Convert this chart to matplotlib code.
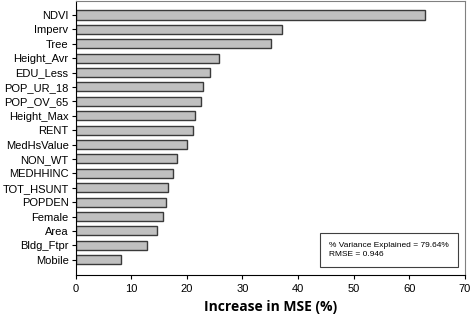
import numpy as np
import matplotlib.pyplot as plt

variables = ['NDVI', 'Imperv', 'Tree', 'Height_Avr', 'EDU_Less', 'POP_UR_18',
             'POP_OV_65', 'Height_Max', 'RENT', 'MedHsValue', 'NON_WT',
             'MEDHHINC', 'TOT_HSUNT', 'POPDEN', 'Female', 'Area',
             'Bldg_Ftpr', 'Mobile']
inc_mse = [62.8, 37.2, 35.2, 25.7, 24.2, 23.0, 22.5, 21.5, 21.2, 20.0, 18.2,
           17.5, 16.7, 16.3, 15.7, 14.6, 12.9, 8.1]
x_ticks = [0, 10, 20, 30, 40, 50, 60, 70]

plt.rcParams['font.family'] = ['Liberation Sans', 'DejaVu Sans']

fig = plt.figure(figsize=(4.72, 3.15), dpi=100)
ax = fig.add_axes([75.5 / 472, 40 / 315, (465 - 75.5) / 472, (275 - 1) / 315])

pos = np.arange(len(variables))[::-1]
ax.barh(pos, inc_mse, height=0.63, color='#c0c0c0', edgecolor='#3a3a3a', linewidth=1.0)

ax.set_xlim(0, 70)
ax.set_ylim(-1.06, len(variables) - 1 + 0.97)
ax.set_xticks(x_ticks)
ax.set_yticks(pos)
ax.set_yticklabels(variables)
ax.tick_params(axis='both', labelsize=8, direction='out', length=3, width=0.8, colors='black')
ax.tick_params(axis='y', pad=2)

for s in ['left', 'bottom']:
    ax.spines[s].set_color('black')
    ax.spines[s].set_linewidth(0.8)
for s in ['top', 'right']:
    ax.spines[s].set_color('#808080')
    ax.spines[s].set_linewidth(0.8)

ax.set_xlabel('Increase in MSE (%)', fontsize=10, fontweight='bold',
              family=['Open Sans', 'DejaVu Sans'], labelpad=4)

ax.text(0.65, 0.092, '% Variance Explained = 79.64%\nRMSE = 0.946',
        transform=ax.transAxes, fontsize=6, va='center', ha='left', linespacing=1.4,
        bbox=dict(boxstyle='square,pad=1.1', facecolor='white', edgecolor='#404040', linewidth=0.8))

fig.savefig('out.png', dpi=100)
